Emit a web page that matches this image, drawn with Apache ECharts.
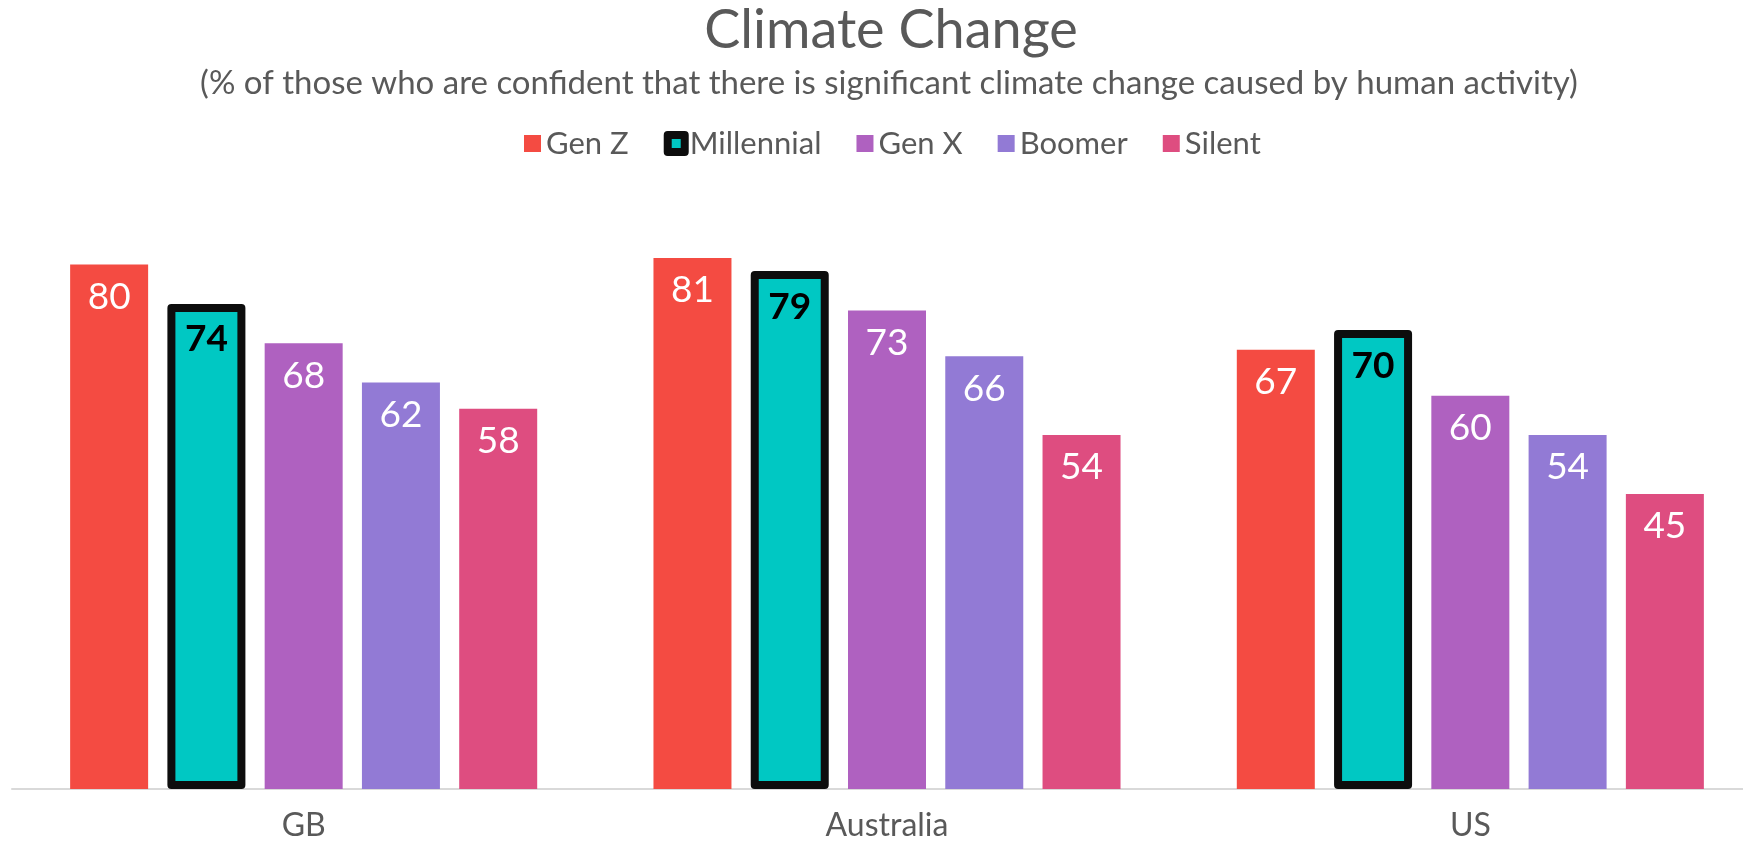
<!DOCTYPE html>
<html>
<head>
<meta charset="utf-8">
<script src="https://cdn.jsdelivr.net/npm/echarts@6/dist/echarts.min.js"></script>
<style>
  html, body { margin: 0; padding: 0; background: #fff; }
  #chart { width: 1743px; height: 844px; }
</style>
</head>
<body>
<div id="chart"></div>
<script>
// data
var categories = ['GB', 'Australia', 'US'];
var genZ = [80, 81, 67];
var millennial = [74, 79, 70];
var genX = [68, 73, 60];
var boomer = [62, 66, 54];
var silent = [58, 54, 45];

var FONT = 'Lato, "Liberation Sans", sans-serif';
var GREY = '#595959';

var myChart = echarts.init(document.getElementById('chart'));

// white label inside the top of the bar
function whiteLabel() {
    return {
        show: true,
        position: 'insideTop',
        distance: 14,
        color: '#fff',
        fontFamily: FONT,
        fontSize: 37
    };
}

function barSeries(name, data, color) {
    return {
        name: name,
        type: 'bar',
        data: data,
        barWidth: 78,
        barGap: '24.7%',
        itemStyle: { color: color },
        label: whiteLabel()
    };
}

var option = {
    animation: false,
    title: [
        {
            text: 'Climate Change',
            left: 886,
            top: -1,
            textAlign: 'center',
            textStyle: { color: GREY, fontFamily: FONT, fontSize: 54, fontWeight: 'normal' }
        },
        {
            text: '(% of those who are confident that there is significant climate change caused by human activity)',
            left: 884,
            top: 62,
            textAlign: 'center',
            textStyle: { color: GREY, fontFamily: FONT, fontSize: 33, fontWeight: 'normal' }
        }
    ],
    legend: {
        left: 519,
        top: 123,
        icon: 'rect',
        itemWidth: 17,
        itemHeight: 17,
        itemGap: 35,
        textStyle: { color: GREY, fontFamily: FONT, fontSize: 31 },
        data: [
            'Gen Z',
            { name: 'Millennial', itemStyle: { borderColor: '#0d0d0d', borderWidth: 8, borderJoin: 'round' } },
            'Gen X',
            'Boomer',
            'Silent'
        ]
    },
    grid: {
        left: 12,
        width: 1750,
        top: 199,
        bottom: 55,
        outerBoundsMode: 'none'
    },
    xAxis: {
        type: 'category',
        data: categories,
        axisTick: { show: false },
        axisLine: { lineStyle: { color: '#d9d9d9', width: 2 } },
        axisLabel: { color: GREY, fontFamily: FONT, fontSize: 32, margin: 21 }
    },
    yAxis: {
        type: 'value',
        min: 0,
        max: 90,
        show: false,
        splitLine: { show: false }
    },
    series: [
        barSeries('Gen Z', genZ, '#F44B42'),
        {
            name: 'Millennial',
            type: 'bar',
            data: millennial,
            barWidth: 78,
            barGap: '24.7%',
            itemStyle: {
                color: '#00C8C3',
                borderColor: '#0d0d0d',
                borderWidth: 8,
                borderJoin: 'round'
            },
            label: {
                show: true,
                position: 'insideTop',
                distance: 17,
                color: '#000',
                fontWeight: 'bold',
                fontFamily: FONT,
                fontSize: 37
            }
        },
        barSeries('Gen X', genX, '#AF61C0'),
        barSeries('Boomer', boomer, '#927AD5'),
        barSeries('Silent', silent, '#DE4D80')
    ]
};

myChart.setOption(option);
window.addEventListener('resize', function () {
    myChart.resize();
});
</script>
</body>
</html>
